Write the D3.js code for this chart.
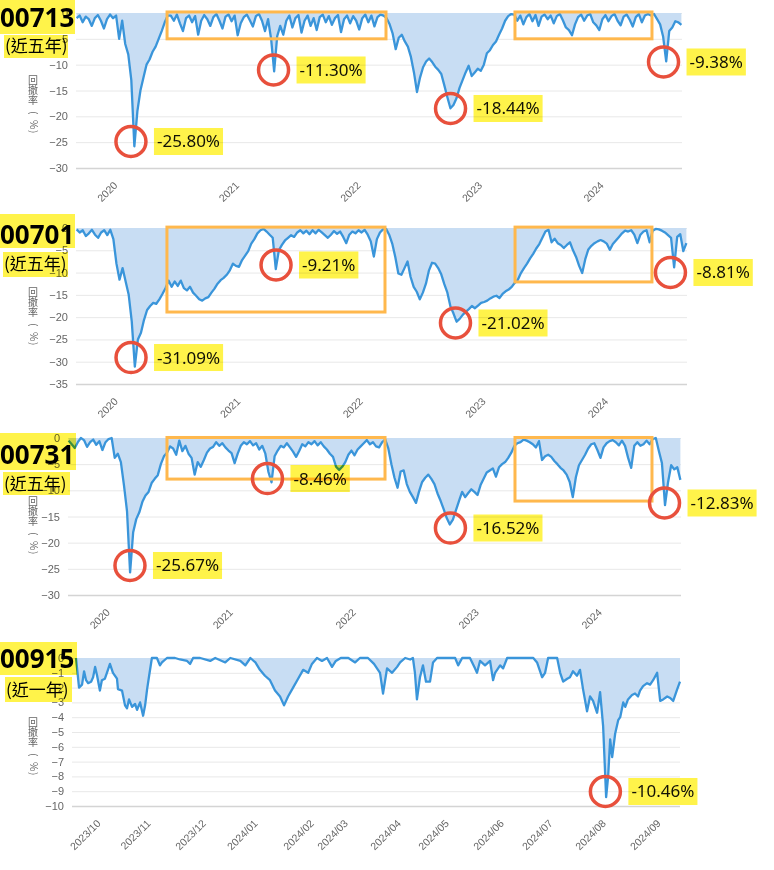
<!DOCTYPE html>
<html><head><meta charset="utf-8">
<script src="https://cdn.jsdelivr.net/npm/d3@7"></script>
<style>html,body{margin:0;padding:0;background:#fff;} svg{display:block;background:#fff;}</style>
</head><body>
<svg id="chart" width="774" height="870"></svg>
<script>
// ---------------- data ----------------
const yearDomain = [2019.665, 2024.65];
const sampleStart = 2019.67;
const sampleStep = 0.025;
const yearTicks = [2020, 2021, 2022, 2023, 2024];

const dd00713 = [
-1,-0.5,-1.8,-0.7,-1.2,-2.5,-1,-0.4,-1.5,-3,
-1.2,-0.3,-1,-0.5,-5,-1.5,-6,-8,-13,-25.8,
-19,-15,-12.5,-10,-9,-7.5,-6.5,-5,-3.5,-1.8,
-0.5,-0.5,-1.5,-0.3,-2,-3.5,-1,-0.5,-1.8,-0.6,
-4.2,-1.5,-0.4,-1.2,-2.5,-0.8,-0.2,-1.5,-3,-0.7,
-0.3,-1.6,-0.5,-4.3,-2,-0.8,-0.3,-1.4,-2.6,-0.6,
-0.2,-1.5,-3.5,-1.2,-5,-11.3,-4.5,-2.5,-4.2,-1.5,
-0.5,-2.8,-1,-0.4,-3.8,-1.5,-0.5,-2.5,-1,-3.3,
-0.8,-0.3,-1.8,-0.6,-2.3,-1,-0.4,-3.7,-1.2,-0.5,
-2,-0.6,-1.5,-3.2,-1,-0.3,-1.8,-0.5,-2.6,-0.8,
-0.3,-0.5,-1,-2.2,-4,-7,-4.8,-4.2,-5.5,-6.5,
-8.5,-11.5,-15.3,-12.5,-10.5,-9.4,-8.8,-9.5,-10.4,-11,
-11.8,-14,-16.3,-18.44,-17.8,-16.5,-14.5,-13,-11.5,-10.2,
-12.2,-11.5,-10.8,-11.2,-10,-7.8,-7.2,-6.2,-5.5,-4.2,
-3,-1.5,-0.6,-0.2,-0.3,-1.5,-0.5,-2.2,-0.8,-0.2,
-1.6,-0.4,-2.5,-0.7,-0.3,-1.2,-0.5,-2,-0.6,-0.2,
-1.4,-2.8,-3.3,-4.3,-2.2,-0.8,-0.3,-1.5,-0.5,-0.2,
-1.8,-2.4,-3.3,-1.2,-0.4,-1.6,-0.6,-0.2,-1.5,-2.4,
-0.7,-0.3,-1.3,-2.6,-0.8,-0.2,-1.8,-0.5,-0.2,-0.5,
-0.2,-1.2,-2.2,-4.6,-9.38,-3.5,-2.8,-1.6,-1.8,-2.3];

const dd00701 = [
-0.3,-1,-0.5,-1.8,-1.2,-0.4,-1.5,-2.2,-1,-0.5,
-1.6,-0.4,-2.5,-8,-11.6,-9,-12,-15,-21,-31.09,
-25,-23.5,-20.6,-18.4,-17.5,-16.8,-17,-16,-14.8,-13.5,
-11.8,-13.2,-12,-13,-11.8,-13.5,-14,-13.2,-14.5,-15.2,
-16,-16.3,-15.8,-15.5,-14.5,-13.6,-12.5,-11.7,-11.2,-10.5,
-9.5,-8,-8.5,-8.7,-7.2,-6.2,-5.2,-3.5,-2.5,-1.2,
-0.5,-0.2,-0.8,-1.5,-2.2,-9.21,-5,-3.8,-2.8,-2.2,
-1.6,-2,-1,-0.5,-1.2,-0.6,-1.4,-0.5,-1.2,-0.4,
-1,-1.6,-2.2,-1.5,-0.7,-1.3,-0.8,-2,-3.4,-1.5,
-0.8,-1.2,-0.5,-1,-0.4,-1.5,-3,-6.4,-2.5,-1,
-0.3,-0.2,-1.5,-3.5,-6.5,-10.2,-10.5,-9,-7.5,-11,
-13.2,-14.3,-16,-14.5,-12.5,-9.5,-7.8,-8,-9,-10.4,
-12.6,-14.5,-17.6,-19.2,-21.02,-20.4,-19.5,-18.8,-18.2,-17.5,
-18,-17.4,-16.8,-16.6,-16.3,-15.8,-15.4,-15.2,-15.7,-14.8,
-14.2,-13.8,-13.2,-12.3,-11.6,-10.1,-9,-8,-6.8,-5.8,
-4.6,-3.6,-2.2,-0.8,-0.4,-3.2,-2.4,-3.4,-3.8,-4.5,
-3.8,-3.2,-5,-6.5,-8.5,-10.1,-7,-4.8,-4,-3.4,
-3,-2.7,-3,-3.5,-4.9,-3.6,-2.8,-2,-1.2,-0.6,
-0.8,-0.5,-1.5,-3.4,-1.5,-0.8,-0.5,-3.2,-0.6,-0.2,
-0.3,-0.6,-1,-1.6,-2.2,-8.81,-2,-1.4,-5.2,-3.4];

const dd00731 = [
-0.5,-1.2,-1.9,-0.8,0,-0.4,-1.7,-0.8,-0.3,-1.3,
-0.6,-2.3,-0.8,-0.2,0,-3.8,-3,-4.6,-9,-14,
-25.67,-18,-15.5,-14.2,-12.2,-11,-10.3,-8.6,-7.8,-7.1,
-5,-3.5,-2.8,-1.6,-2,-3.2,-0.5,-2.5,-1.5,-3,
-3.8,-7,-4.6,-5.5,-4.2,-2.8,-2,-1.7,-0.8,-1.5,
-1,-1.8,-2.4,-2.9,-4.8,-3,-1.5,-0.8,-1.2,-0.6,
-1.4,-1,-2.2,-1.5,-3,-6.5,-8.46,-3.5,-2.4,-1.5,
-1.8,-1,-1.8,-2.6,-3.6,-2.5,-1.2,-1.6,-0.8,-1.2,
-0.6,-1.4,-0.8,-1.6,-2.2,-3,-3.6,-5.5,-6.1,-5.5,
-4.6,-3.2,-2.4,-3.3,-2.2,-1.6,-1,-0.4,-1.2,-0.8,
-1.6,-1.8,-0.8,-0.3,-2,-5,-7.6,-9.5,-6.4,-6.2,
-8.8,-10.3,-11.3,-12.4,-10.2,-8.4,-7.6,-7,-7.8,-8.8,
-10.6,-12,-13.6,-15.3,-16.52,-15.6,-13.8,-12,-10.3,-11.3,
-10.5,-9.8,-10.3,-10.9,-9,-7.8,-6.6,-6.2,-5.8,-7.4,
-5.6,-5,-4.6,-3.8,-2.8,-1.5,-1,-0.8,-0.3,-0.5,
-0.8,-1.2,-1.8,-0.6,-4.2,-3.5,-3.2,-3.6,-4.4,-5,
-5.7,-6.2,-7,-8.4,-11.3,-7.5,-5.2,-4.2,-3.2,-2,
-1.2,-1,-2.3,-3.8,-1.8,-1,-0.6,-0.4,-0.8,-1.4,
-0.5,-1.5,-3.8,-5.7,-1.5,-0.8,-1.5,-1.2,-0.5,-1.2,
-0.2,0,-2.5,-4.8,-12.83,-8.4,-5.2,-6,-5.6,-8];

// 00915: trading-day index and drawdown
const dayDomain00915 = [0, 242];
const day00915 = [1.6,2.8,4.0,4.8,5.6,6.4,7.6,8.4,9.2,10,11.1,11.9,13.1,14.3,15.1,16.3,17.9,18.3,19.9,21.1,
21.9,22.7,23.9,25.1,25.9,27.1,28.3,29.1,29.9,30.7,31.8,33.8,35,35.8,37.8,41,43,45.8,47,48.2,
51,55,57,61,63,67,69,71,73,74.8,76.8,78.8,80.8,82.8,84.4,86,88,90,92,94,
95.5,97.5,99.5,101.5,103.5,105,107,110,112.7,114.6,117.8,120.2,121.8,122.6,123.8,125.4,127.4,129.4,130.6,132.6,
134.6,135.7,136.5,137.3,138.5,139.7,140.9,142.5,143.7,145.3,152.5,153.7,155.3,158.4,160.4,161.2,162.4,164.4,166.4,167.6,
168.4,170.4,171.6,173.2,183.6,185.1,187.1,188.3,189.5,193.1,194.3,195.5,197.1,198.2,199.4,201,202.2,203.4,205,206.2,
207.4,209,210.2,211.4,212.6,213.4,214.2,215,216.2,217.4,218.2,219.4,220.2,221.3,222.9,224.1,225.3,226.1,227.3,228.9,
230.1,231.3,232.9,234.1,235.3,236.9,238.1,239.3,240.9,242];
const dd00915 = [0,-2.0,-1.8,-0.9,-1.5,-1.7,-1.6,-1.3,-0.6,-1.2,-2.2,-1.5,-1.4,-0.8,-0.4,-1.0,-1.4,-2.1,-2.2,-3.2,
-3.4,-2.8,-3.3,-3.1,-3.5,-3.0,-3.9,-3.2,-2.1,-1.2,0,0,-0.5,-0.3,0,0,-0.1,-0.2,-0.4,0,
0,-0.2,0,-0.3,0,-0.2,-0.5,0,-0.3,-0.8,-1.2,-1.5,-2.2,-2.6,-3.2,-2.6,-2.0,-1.4,-0.8,-1.0,
-0.4,0,-0.2,0,-0.6,-0.2,0,0,-0.3,0,0,-0.4,-0.8,-1.0,-2.4,-0.7,-1.0,-0.6,-0.3,0,
-0.1,0,-1.0,-2.8,-1.3,-0.5,-1.6,-1.6,-0.3,0,0,-0.5,0,0,-0.7,-1.0,-0.2,-0.5,-0.2,-1.5,
-1.0,-0.5,-0.7,0,0,-0.3,-1.3,-1.0,0,0,-1.0,-1.6,-1.4,-1.3,-0.9,-1.2,-0.8,-2.1,-3.6,-2.6,
-2.9,-3.7,-2.3,-4.6,-9.4,-8.0,-5.5,-6.7,-5.1,-4.2,-4.0,-3.0,-3.3,-2.8,-2.5,-2.4,-2.6,-2.2,-1.9,-1.7,
-1.8,-1.5,-1.0,-2.9,-2.8,-2.6,-2.7,-2.9,-2.1,-1.6];
const monthLabels00915 = ["2023/10","2023/11","2023/12","2024/01","2024/02","2024/03","2024/04","2024/05","2024/06","2024/07","2024/08","2024/09"];
const monthDays00915 = [11.1,31,53,73.6,96,109.5,130.6,149.7,171.6,191,212.2,234];

const yTicks00713 = [0,-5,-10,-15,-20,-25,-30];
const yTicks00701 = [0,-5,-10,-15,-20,-25,-30,-35];
const yTicks00731 = [0,-5,-10,-15,-20,-25,-30];
const yTicks00915 = [0,-1,-2,-3,-4,-5,-6,-7,-8,-9,-10];

const fundCodes = ["00713","00701","00731","00915"];
const fundPeriods = ["(近五年)","(近五年)","(近五年)","(近一年)"];
const axisTitleChars = ["回","撤","率","(","%",")"];

// marked drawdowns: circle centre (x value, drawdown) and label
const notes00713 = [{x:2020.117,v:-24.87,label:"-25.80%"},{x:2021.29,v:-11.03,label:"-11.30%"},{x:2022.746,v:-18.48,label:"-18.44%"},{x:2024.498,v:-9.48,label:"-9.38%"}];
const notes00701 = [{x:2020.114,v:-29.06,label:"-31.09%"},{x:2021.297,v:-8.3,label:"-9.21%"},{x:2022.761,v:-21.31,label:"-21.02%"},{x:2024.515,v:-9.98,label:"-8.81%"}];
const notes00731 = [{x:2020.169,v:-24.36,label:"-25.67%"},{x:2021.287,v:-7.74,label:"-8.46%"},{x:2022.775,v:-17.2,label:"-16.52%"},{x:2024.516,v:-12.42,label:"-12.83%"}];
const notes00915 = [{x:212.3,v:-9.02,label:"-10.46%"}];

// highlighted ranges [x0, x1, vTop, vBottom]
const ranges00713 = [[2020.414,2022.215,0.2,-5.0],[2023.276,2024.403,0.2,-5.0]];
const ranges00701 = [[2020.407,2022.186,0.2,-18.85],[2023.247,2024.364,0.2,-12.1]];
const ranges00731 = [[2020.47,2022.243,0.1,-7.85],[2023.30,2024.414,0.1,-12.05]];
const ranges00915 = [];

// ---------------- drawing ----------------
const yearPoints = vals => vals.map((v,i)=>[sampleStart + i*sampleStep, v]);

const panels = [
  {code:fundCodes[0], period:fundPeriods[0], pts:yearPoints(dd00713), xDomain:yearDomain, xTicks:yearTicks, xFmt:d=>String(d), yTicks:yTicks00713, notes:notes00713, ranges:ranges00713,
   L:{left:76,right:682,top:13,bottom:168, code:[0,0,75,34], codeBase:27, sub:[4,35,64,23], subBase:52, titleY:75}},
  {code:fundCodes[1], period:fundPeriods[1], pts:yearPoints(dd00701), xDomain:yearDomain, xTicks:yearTicks, xFmt:d=>String(d), yTicks:yTicks00701, notes:notes00701, ranges:ranges00701,
   L:{left:76,right:687,top:228,bottom:384, code:[0,214,75,34], codeBase:244, sub:[3,252,65,25], subBase:270, titleY:287}},
  {code:fundCodes[2], period:fundPeriods[2], pts:yearPoints(dd00731), xDomain:yearDomain, xTicks:yearTicks, xFmt:d=>String(d), yTicks:yTicks00731, notes:notes00731, ranges:ranges00731,
   L:{left:68,right:681,top:438,bottom:595, code:[0,433,76,37], codeBase:464, sub:[3,472,67,23], subBase:490, titleY:496}},
  {code:fundCodes[3], period:fundPeriods[3], pts:day00915.map((d,i)=>[d, dd00915[i]]), xDomain:dayDomain00915, xTicks:monthDays00915, xFmt:(d)=>monthLabels00915[monthDays00915.indexOf(d)], yTicks:yTicks00915, notes:notes00915, ranges:ranges00915,
   L:{left:72,right:680,top:658,bottom:806, code:[0,642,77,33], codeBase:668, sub:[5,677,67,25], subBase:696, titleY:717}}
];

const svg = d3.select("#chart");
const labelFont = "'Liberation Sans', Arial, sans-serif";
const cjkFont = "'Noto Sans CJK TC','Noto Sans CJK SC','Noto Sans',sans-serif";
const layerMain = svg.append("g");
const layerHi = svg.append("g").style("mix-blend-mode","multiply");
const highlight = "#fff34a";

panels.forEach(p => {
  const L = p.L;
  const g = layerMain.append("g");
  const x = d3.scaleLinear().domain(p.xDomain).range([L.left, L.right]);
  const y = d3.scaleLinear().domain([0, d3.min(p.yTicks)]).range([L.top, L.bottom]);
  const yMin = d3.min(p.yTicks);

  // grid lines
  const grid = g.append("g").attr("transform", `translate(${L.left},0)`)
    .call(d3.axisLeft(y).tickValues(p.yTicks).tickSize(-(L.right - L.left)).tickFormat(""));
  grid.select(".domain").remove();
  grid.selectAll(".tick line").attr("stroke", d => d === yMin ? "#d4d4d4" : "#e8e8e8").attr("stroke-width", d => d === yMin ? 1.5 : 1);

  // area + line
  const area = d3.area().x(d=>x(d[0])).y0(y(0)).y1(d=>y(d[1]));
  const line = d3.line().x(d=>x(d[0])).y(d=>y(d[1]));
  g.append("path").datum(p.pts).attr("d", area).attr("fill", "#c8ddf3");
  g.append("path").datum(p.pts).attr("d", line).attr("fill","none").attr("stroke","#3a95da").attr("stroke-width",2.3).attr("stroke-linejoin","round");

  // y labels
  const ya = g.append("g").attr("transform", `translate(${L.left},0)`)
    .call(d3.axisLeft(y).tickValues(p.yTicks).tickSize(0).tickPadding(8).tickFormat(d3.format("d")));
  ya.select(".domain").remove();
  ya.selectAll("text").attr("fill","#666").style("font-family", labelFont).style("font-size","11px");

  // x labels
  const xa = g.append("g").attr("transform", `translate(0,${L.bottom})`)
    .call(d3.axisBottom(x).tickValues(p.xTicks).tickSize(0).tickFormat(p.xFmt));
  xa.select(".domain").remove();
  xa.selectAll("text").attr("x",0).attr("y",0).attr("dy",0)
    .attr("text-anchor","end").attr("transform","translate(1,18) rotate(-45)")
    .attr("fill","#666").style("font-family", labelFont).style("font-size","10.5px");

  // y axis title: one text, glyphs stacked vertically; brackets and % turned sideways
  const offs = [9,19,29,36,45,55];
  const title = g.append("text").style("font-family", cjkFont).style("font-size","10px").attr("fill","#666");
  axisTitleChars.forEach((c,i) => {
    const ts = title.append("tspan").text(c).attr("y", L.titleY + offs[i]);
    if (i < 3) ts.attr("x", 28);
    else ts.attr("x", 30).attr("rotate", 90);
  });

  // highlighted ranges
  g.selectAll("rect.range").data(p.ranges).join("rect").attr("class","range")
    .attr("x", d=>x(d[0])).attr("y", d=>y(d[2])).attr("width", d=>x(d[1])-x(d[0])).attr("height", d=>y(d[3])-y(d[2]))
    .attr("fill","none").attr("stroke","#ffb84d").attr("stroke-width",3);

  // marked drawdowns
  p.notes.forEach(n => {
    const cx = x(n.x), cy = y(n.v);
    g.append("circle").attr("cx",cx).attr("cy",cy).attr("r",15).attr("fill","none").attr("stroke","#e8503c").attr("stroke-width",3.5);
    const t = g.append("text").attr("x", cx+26).attr("y", cy+6).text(n.label)
      .style("font-family","'Noto Sans',sans-serif").style("font-size","17px").attr("fill","#111");
    const bb = t.node().getBBox();
    layerHi.append("rect").attr("x", cx+23).attr("y", cy-13.5).attr("width", bb.width+6).attr("height", 27).attr("fill",highlight);
  });

  // title boxes (highlighter, multiplied over)
  layerHi.append("rect").attr("x",L.code[0]).attr("y",L.code[1]).attr("width",L.code[2]).attr("height",L.code[3]).attr("fill",highlight);
  g.append("text").attr("x",0).attr("y",L.codeBase).text(p.code)
    .style("font-family","'Noto Sans',sans-serif").style("font-weight","bold").style("font-size","26px").attr("fill","#000");
  layerHi.append("rect").attr("x",L.sub[0]).attr("y",L.sub[1]).attr("width",L.sub[2]).attr("height",L.sub[3]).attr("fill",highlight);
  g.append("text").attr("x",L.sub[0]+1).attr("y",L.subBase).text(p.period)
    .style("font-family", cjkFont).style("font-size","17px").attr("fill","#000");
});
</script>
</body></html>
